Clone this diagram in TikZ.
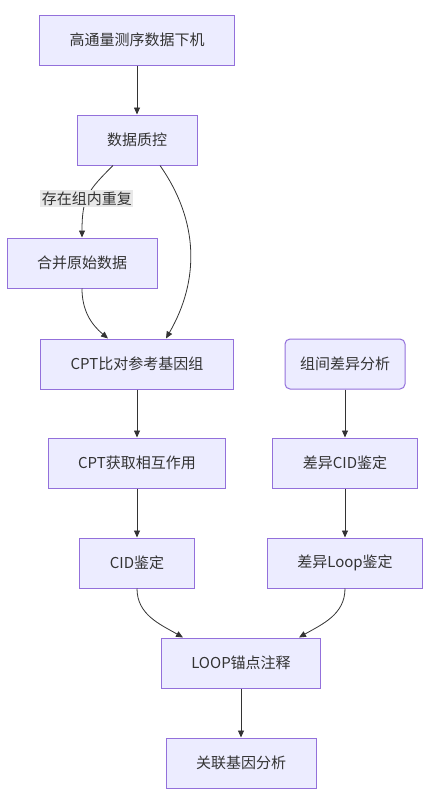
\documentclass[tikz,border=0pt]{standalone}
\usepackage{fontspec}
\setmainfont{Noto Sans CJK SC}
\usetikzlibrary{arrows.meta}
\definecolor{boxfill}{HTML}{ECECFF}
\definecolor{boxline}{HTML}{9370DB}
\definecolor{edge}{HTML}{333333}
\definecolor{lblbg}{HTML}{E8E8E8}
\begin{document}
\begin{tikzpicture}[x=1pt,y=-1pt,
		box/.style={draw=boxline,fill=boxfill,text=edge,line width=1pt,minimum height=50pt,inner xsep=30pt,font=\fontsize{15}{18}\selectfont},
		rbox/.style={box,rounded corners=5pt,inner xsep=15pt},
		flow/.style={draw=edge,line width=.8pt,-{Triangle[length=7pt,width=6pt]}},
		lbl/.style={fill=lblbg,text=edge,inner sep=1.5pt,font=\fontsize{15}{18}\selectfont}]
		\useasboundingbox (0,0) rectangle (429,806);
		\node[box] (raw) at(137,40) {高通量测序数据下机};
		\node[box] (qc) at(137,140) {数据质控};
		\node[box] (merge) at(82,263) {合并原始数据};
		\node[box] (align) at(137,364) {CPT比对参考基因组};
		\node[rbox] (diff) at(345,364) {组间差异分析};
		\node[box] (inter) at(137,463) {CPT获取相互作用};
		\node[box] (dcid) at(345,463) {差异CID鉴定};
		\node[box] (cid) at(137,563) {CID鉴定};
		\node[box] (dloop) at(345,563) {差异Loop鉴定};
		\node[box] (anchor) at(241,663) {LOOP锚点注释};
		\node[box] (gene) at(241,763) {关联基因分析};
		\draw[flow] (raw) -- (qc);
		\draw[flow] ([xshift=-24pt]qc.south) .. controls +(-25,25) and +(0,-40) .. node[lbl,pos=.55] {存在组内重复} (merge.north);
		\draw[flow] (merge.south) to[out=-90,in=140] ([xshift=-29pt]align.north);
		\draw[flow] ([xshift=23pt]qc.south) to[out=-55,in=60] ([xshift=29pt]align.north);
		\draw[flow] (align) -- (inter);
		\draw[flow] (inter) -- (cid);
		\draw[flow] (diff) -- (dcid);
		\draw[flow] (dcid) -- (dloop);
		\draw[flow] (cid.south) to[out=-90,in=150] ([xshift=-58pt]anchor.north);
		\draw[flow] (dloop.south) to[out=-90,in=30] ([xshift=58pt]anchor.north);
		\draw[flow] (anchor) -- (gene);
	\end{tikzpicture}
\end{document}
